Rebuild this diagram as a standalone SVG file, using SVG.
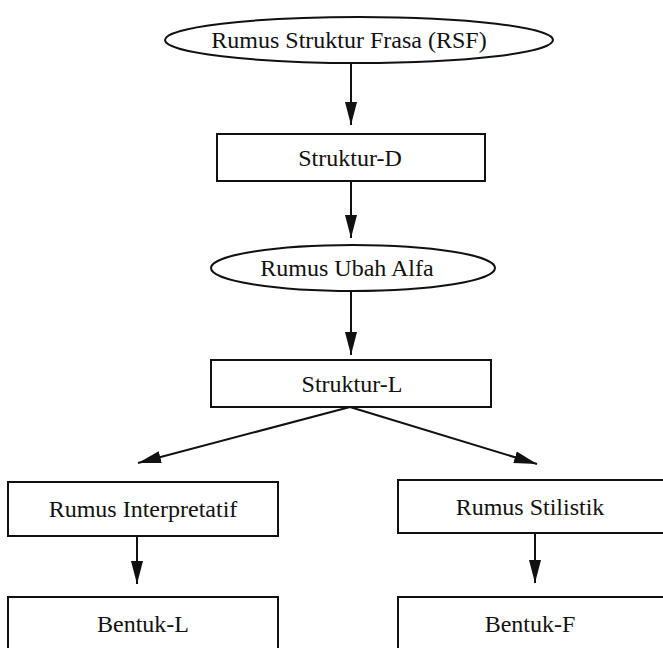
<svg xmlns="http://www.w3.org/2000/svg" width="663" height="648" viewBox="0 0 663 648">
  <style>
    .shape { fill: #ffffff; stroke: #111111; stroke-width: 2; }
    .label { font-family: "Liberation Serif", "Times New Roman", serif; font-size: 24px; fill: #111111; text-anchor: middle; }
    .edge { stroke: #111111; stroke-width: 2; fill: none; marker-end: url(#arrow); }
  </style>
  <defs>
    <marker id="arrow" markerUnits="userSpaceOnUse" markerWidth="23" markerHeight="13" refX="23" refY="6.5" orient="auto">
      <path d="M0,0.5 L23,6.5 L0,12.5 z" fill="#111111"/>
    </marker>
  </defs>
  <rect width="663" height="648" fill="#ffffff"/>

  <!-- connectors -->
  <g id="connectors">
    <line class="edge" x1="351" y1="62" x2="351" y2="125"/>
    <line class="edge" x1="351" y1="181" x2="351" y2="238"/>
    <line class="edge" x1="351" y1="291" x2="351" y2="355"/>
    <line class="edge" x1="350" y1="407" x2="138" y2="463"/>
    <line class="edge" x1="350" y1="407" x2="537" y2="464"/>
    <line class="edge" x1="137" y1="536" x2="137" y2="584"/>
    <line class="edge" x1="535" y1="533" x2="535" y2="583"/>
  </g>

  <!-- nodes -->
  <g id="rsf">
    <ellipse class="shape" cx="359" cy="40" rx="194" ry="23"/>
    <text class="label" x="349" y="48">Rumus Struktur Frasa (RSF)</text>
  </g>
  <g id="struktur-d">
    <rect class="shape" x="217" y="134" width="268" height="47"/>
    <text class="label" x="350" y="166">Struktur-D</text>
  </g>
  <g id="rumus-ubah-alfa">
    <ellipse class="shape" cx="353" cy="268" rx="142" ry="23"/>
    <text class="label" x="347" y="276">Rumus Ubah Alfa</text>
  </g>
  <g id="struktur-l">
    <rect class="shape" x="211" y="360" width="280" height="47"/>
    <text class="label" x="352" y="392">Struktur-L</text>
  </g>
  <g id="rumus-interpretatif">
    <rect class="shape" x="8" y="482" width="270" height="54"/>
    <text class="label" x="143" y="517">Rumus Interpretatif</text>
  </g>
  <g id="rumus-stilistik">
    <rect class="shape" x="398" y="480" width="266" height="53"/>
    <text class="label" x="530" y="515">Rumus Stilistik</text>
  </g>
  <g id="bentuk-l">
    <rect class="shape" x="8" y="597" width="270" height="53"/>
    <text class="label" x="143" y="632">Bentuk-L</text>
  </g>
  <g id="bentuk-f">
    <rect class="shape" x="398" y="597" width="266" height="53"/>
    <text class="label" x="530" y="632">Bentuk-F</text>
  </g>
</svg>
